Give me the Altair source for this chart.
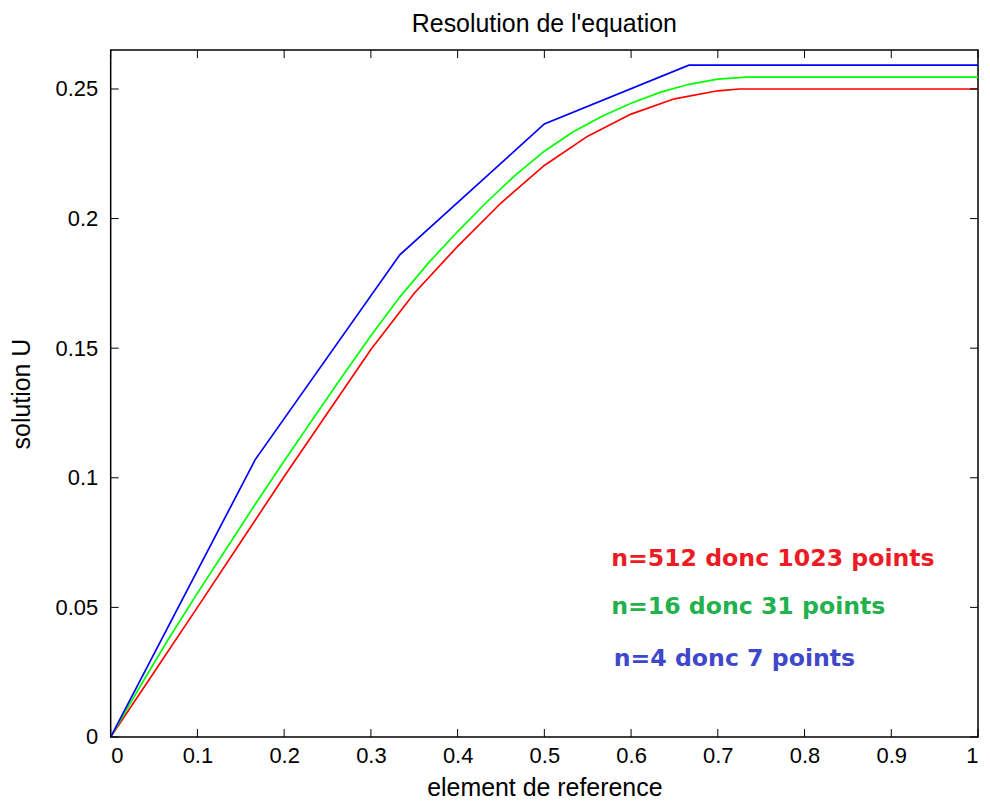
import altair as alt
import pandas as pd

# ---- data ----
blue_x = [0, 1/6, 2/6, 3/6, 4/6, 5/6, 1.0]
blue_u = [0, 0.107, 0.186, 0.2365, 0.2592, 0.2592, 0.2592]

green_x = [k / 30 for k in range(31)]
green_u = [0, 0.0192, 0.0378, 0.0555, 0.0726, 0.0898, 0.1065, 0.1228, 0.1390,
           0.1548, 0.1697, 0.1830, 0.1950, 0.2063, 0.2168, 0.2260, 0.2335,
           0.2395, 0.2445, 0.2487, 0.2518, 0.2538, 0.2546, 0.2546, 0.2546,
           0.2546, 0.2546, 0.2546, 0.2546, 0.2546, 0.2546]

red_x = [0, 0.05, 0.1, 0.15, 0.2, 0.25, 0.3, 0.35, 0.4, 0.45, 0.5, 0.55, 0.6,
         0.65, 0.7, 0.725, 0.75, 0.8, 0.85, 0.9, 0.95, 1.0]
red_u = [0, 0.025, 0.050, 0.0752, 0.1005, 0.125, 0.1495, 0.1712, 0.1893,
         0.2060, 0.2205, 0.2318, 0.2403, 0.2462, 0.2493, 0.2500, 0.2500,
         0.2500, 0.2500, 0.2500, 0.2500, 0.2500]

series_names = ["n=512", "n=16", "n=4"]
series_colors = ["#ff0000", "#00ff00", "#0000ff"]

x_ticks = [0, 0.1, 0.2, 0.3, 0.4, 0.5, 0.6, 0.7, 0.8, 0.9, 1.0]
y_ticks = [0, 0.05, 0.1, 0.15, 0.2, 0.25]

ann_text = ["n=512 donc 1023 points", "n=16 donc 31 points", "n=4 donc 7 points"]
ann_color = ["#ed1c24", "#22b14c", "#3f48cc"]
ann_x = [0.577, 0.577, 0.580]
ann_y = [0.0685, 0.050, 0.030]

# ---- build tables ----
rows = []
for name, xs, us in [("n=512", red_x, red_u), ("n=16", green_x, green_u), ("n=4", blue_x, blue_u)]:
    for i, (xv, uv) in enumerate(zip(xs, us)):
        rows.append({"serie": name, "x": xv, "u": uv, "i": i})
df = pd.DataFrame(rows)
xt = pd.DataFrame({"x": x_ticks})
yt = pd.DataFrame({"u": y_ticks})
ann = pd.DataFrame({"t": ann_text, "c": ann_color, "x": ann_x, "u": ann_y})

W, H = 870, 689
FONT = "Liberation Sans"
FS_TICK = 22
FS_TITLE = 25
common = dict(grid=False, ticks=False, domain=False, format="~g",
              labelFont=FONT, labelFontSize=FS_TICK, labelColor="black",
              titleFont=FONT, titleFontSize=FS_TITLE, titleColor="black", titleFontWeight="normal")
xscale = alt.Scale(domain=[0, 1], nice=False, zero=False)
yscale = alt.Scale(domain=[0, 0.265], nice=False, zero=False)
xaxis = alt.Axis(values=x_ticks, title="element de reference", labelPadding=9, titlePadding=9, **common)
yaxis = alt.Axis(values=y_ticks, title="solution U", labelPadding=13, titlePadding=21, **common)
X = alt.X("x:Q", scale=xscale, axis=xaxis)
Y = alt.Y("u:Q", scale=yscale, axis=yaxis)

lines = alt.Chart(df).mark_line(strokeWidth=1.7, clip=True).encode(
    x=X, y=Y,
    color=alt.Color("serie:N", scale=alt.Scale(domain=series_names, range=series_colors), legend=None),
    order="i:Q",
)

tick_len = 8
bottom = alt.Chart(xt).mark_rule(color="black", strokeWidth=1).encode(
    x=X, y=alt.value(H), y2=alt.value(H - tick_len))
top = alt.Chart(xt).mark_rule(color="black", strokeWidth=1).encode(
    x=X, y=alt.value(0), y2=alt.value(tick_len))
left = alt.Chart(yt).mark_rule(color="black", strokeWidth=1).encode(
    y=Y, x=alt.value(0), x2=alt.value(tick_len))
right = alt.Chart(yt).mark_rule(color="black", strokeWidth=1).encode(
    y=Y, x=alt.value(W - tick_len), x2=alt.value(W))

texts = alt.Chart(ann).mark_text(align="left", baseline="middle", font="DejaVu Sans",
                                 fontWeight="bold", fontSize=23.7).encode(
    x=X, y=Y,
    text="t:N",
    color=alt.Color("c:N", scale=None),
)

chart = alt.layer(lines, bottom, top, left, right, texts).properties(
    width=W, height=H,
    background="white",
    title=alt.TitleParams("Resolution de l'equation", font=FONT, fontSize=FS_TITLE,
                          fontWeight="normal", color="black", offset=13, anchor="middle"),
    autosize=alt.AutoSizeParams(type="none"),
    padding={"left": 103, "top": 41, "right": 4, "bottom": 64},
).configure_view(stroke="black", strokeWidth=1.5)

chart.save("out.html", embed_options={"renderer": "svg", "actions": False})
